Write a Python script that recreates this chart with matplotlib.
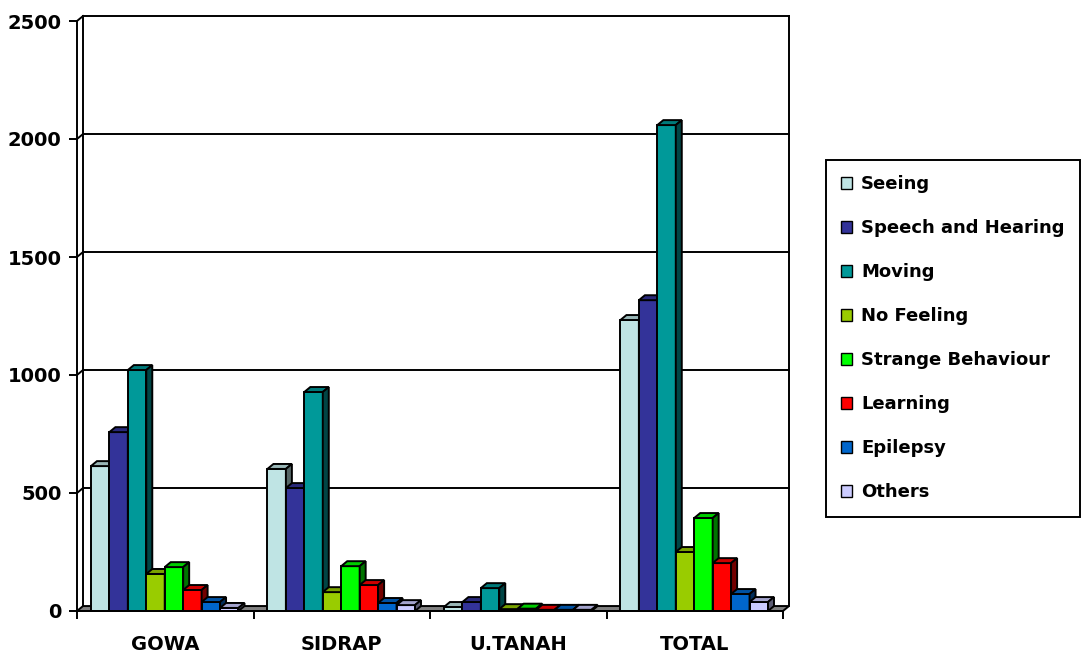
import matplotlib
matplotlib.use("Agg")
import matplotlib.pyplot as plt
from matplotlib.patches import Polygon, Patch
from matplotlib.colors import to_rgb

regions = ["GOWA", "SIDRAP", "U.TANAH", "TOTAL"]
series = ["Seeing", "Speech and Hearing", "Moving", "No Feeling",
          "Strange Behaviour", "Learning", "Epilepsy", "Others"]

seeing = [614, 602, 17, 1233]
speech_hearing = [758, 521, 38, 1317]
moving = [1021, 928, 97, 2059]
no_feeling = [157, 80, 8, 250]
strange_behaviour = [186, 190, 10, 394]
learning = [89, 110, 5, 203]
epilepsy = [38, 34, 5, 72]
others = [13, 25, 5, 38]
values = [seeing, speech_hearing, moving, no_feeling,
          strange_behaviour, learning, epilepsy, others]

colors = ["#BFE4E4", "#333399", "#009999", "#99CC00",
          "#00FF00", "#FF0000", "#0066CC", "#CCCCFF"]

yticks = [0, 500, 1000, 1500, 2000, 2500]


def shade(c, f):
    return tuple(v * f for v in to_rgb(c))


# depth of the fake 3d look, in data units
DX, DY = 0.034, 21
W = 0.1045
OFF = 0.079
LW = 1.4

fig = plt.figure(figsize=(10.83, 6.63), dpi=100)
ax = fig.add_axes([77 / 1083, 52 / 663, 706 / 1083, 590 / 663])
ax.set_xlim(-0.5, 3.5)
ax.set_ylim(0, 2500)
ax.set_facecolor("none")

# back wall gridlines + side wall diagonals
for v in yticks[1:]:
    ax.plot([-0.5 + DX, 3.5 + DX], [v + DY, v + DY], color="black", lw=LW,
            zorder=1, clip_on=False)
    ax.plot([-0.5, -0.5 + DX], [v, v + DY], color="black", lw=LW,
            zorder=1, clip_on=False)
ax.plot([-0.5 + DX, -0.5 + DX], [DY, 2500 + DY], color="black", lw=LW,
        zorder=1, clip_on=False)
ax.plot([3.5 + DX, 3.5 + DX], [DY, 2500 + DY], color="black", lw=LW,
        zorder=1, clip_on=False)

# floor
ax.add_patch(Polygon([(-0.5, 0), (3.5, 0), (3.5 + DX, DY), (-0.5 + DX, DY)],
                     closed=True, facecolor="#808080", edgecolor="black",
                     lw=LW, zorder=2, clip_on=False))

# bars, drawn left to right so the painter's order works
for i in range(len(regions)):
    for k, vals in enumerate(values):
        x0 = i - 0.5 + OFF + k * W
        h = vals[i]
        c = colors[k]
        ax.bar(x0, h, width=W, align="edge", color=c, edgecolor="black",
               lw=LW, zorder=3)
        ax.add_patch(Polygon([(x0, h), (x0 + W, h), (x0 + W + DX, h + DY),
                              (x0 + DX, h + DY)], closed=True,
                             facecolor=shade(c, 0.8), edgecolor="black",
                             lw=LW, zorder=3, clip_on=False))
        ax.add_patch(Polygon([(x0 + W, 0), (x0 + W + DX, DY),
                              (x0 + W + DX, h + DY), (x0 + W, h)], closed=True,
                             facecolor=shade(c, 0.45), edgecolor="black",
                             lw=LW, zorder=3, clip_on=False))

for s in ["top", "right"]:
    ax.spines[s].set_visible(False)
for s in ["left", "bottom"]:
    ax.spines[s].set_linewidth(LW)
    ax.spines[s].set_zorder(4)

ax.set_yticks(yticks)
ax.set_yticklabels([str(v) for v in yticks], fontsize=14, fontweight="bold",
                   family="DejaVu Sans")
ax.tick_params(axis="y", direction="out", length=6, width=LW, pad=5)

ax.set_xticks([-0.5, 0.5, 1.5, 2.5, 3.5])
ax.set_xticklabels([])
ax.set_xticks([0, 1, 2, 3], minor=True)
ax.set_xticklabels(regions, minor=True, fontsize=14, fontweight="bold",
                   family="DejaVu Sans")
ax.tick_params(axis="x", which="major", direction="out", length=6, width=LW)
ax.tick_params(axis="x", which="minor", length=0, pad=17)

handles = [Patch(facecolor=c, edgecolor="black", lw=1.0) for c in colors]
leg = fig.legend(handles, series, loc="upper left",
                 bbox_to_anchor=(826 / 1083, 1 - 160 / 663),
                 frameon=True, fancybox=False, edgecolor="black",
                 framealpha=1, borderaxespad=0, borderpad=0.85,
                 handlelength=0.6, handleheight=0.6, handletextpad=0.5,
                 labelspacing=1.44,
                 prop={"size": 13, "weight": "bold", "family": "DejaVu Sans"})
leg.get_frame().set_linewidth(1.4)

fig.savefig("out.png", dpi=100)
